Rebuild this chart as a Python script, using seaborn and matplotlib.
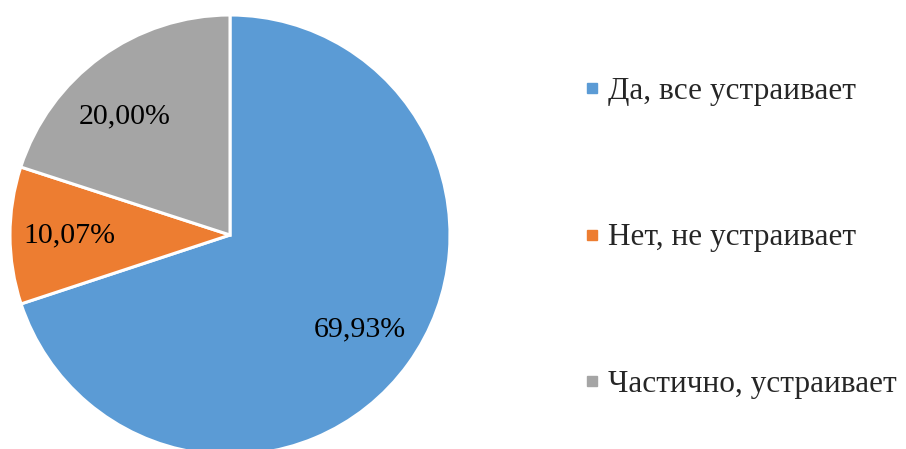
import matplotlib
matplotlib.use("Agg")
import matplotlib.pyplot as plt
from matplotlib.lines import Line2D
import numpy as np
import seaborn as sns

categories = ["Да, все устраивает", "Нет, не устраивает", "Частично, устраивает"]
shares = [69.93, 10.07, 20.00]
colors = ["#5B9BD5", "#ED7D31", "#A5A5A5"]

sns.set_theme(style="white")
plt.rcParams["font.family"] = ["Liberation Serif", "DejaVu Serif"]

W, H = 906, 449
fig = plt.figure(figsize=(W / 100, H / 100), dpi=100)
# pie is ~440px across, centred near (230, 235) px, bottom edge slightly clipped
ax = fig.add_axes([10 / W, (H - 455) / H, 440 / W, 440 / H])

wedges, texts, autotexts = ax.pie(
    shares,
    colors=colors,
    startangle=90,
    counterclock=False,
    radius=1.0,
    autopct=lambda p: f"{p:.2f}%".replace(".", ","),
    pctdistance=0.73,
    wedgeprops=dict(edgecolor="white", linewidth=2.2),
    textprops=dict(fontsize=21.5, color="black"),
)

# the grey label sits a bit lower and further left than the wedge midpoint
w = wedges[2]
ang = np.deg2rad(w.theta1 + 0.58 * (w.theta2 - w.theta1))
autotexts[2].set_position((0.72 * np.cos(ang), 0.72 * np.sin(ang)))

ax.set_xlim(-1, 1)
ax.set_ylim(-1, 1)
ax.axis("off")

handles = [Line2D([0], [0], marker="s", linestyle="none", markersize=7.9,
                  markerfacecolor=c, markeredgecolor=c) for c in colors]
fig.legend(handles, categories, loc="center left", bbox_to_anchor=(586 / W, 1 - 238 / H),
           frameon=False, fontsize=22.5, labelspacing=3.75, handlelength=0.4,
           handletextpad=0.3, borderpad=0, borderaxespad=0)

fig.savefig("out.png", dpi=100)
